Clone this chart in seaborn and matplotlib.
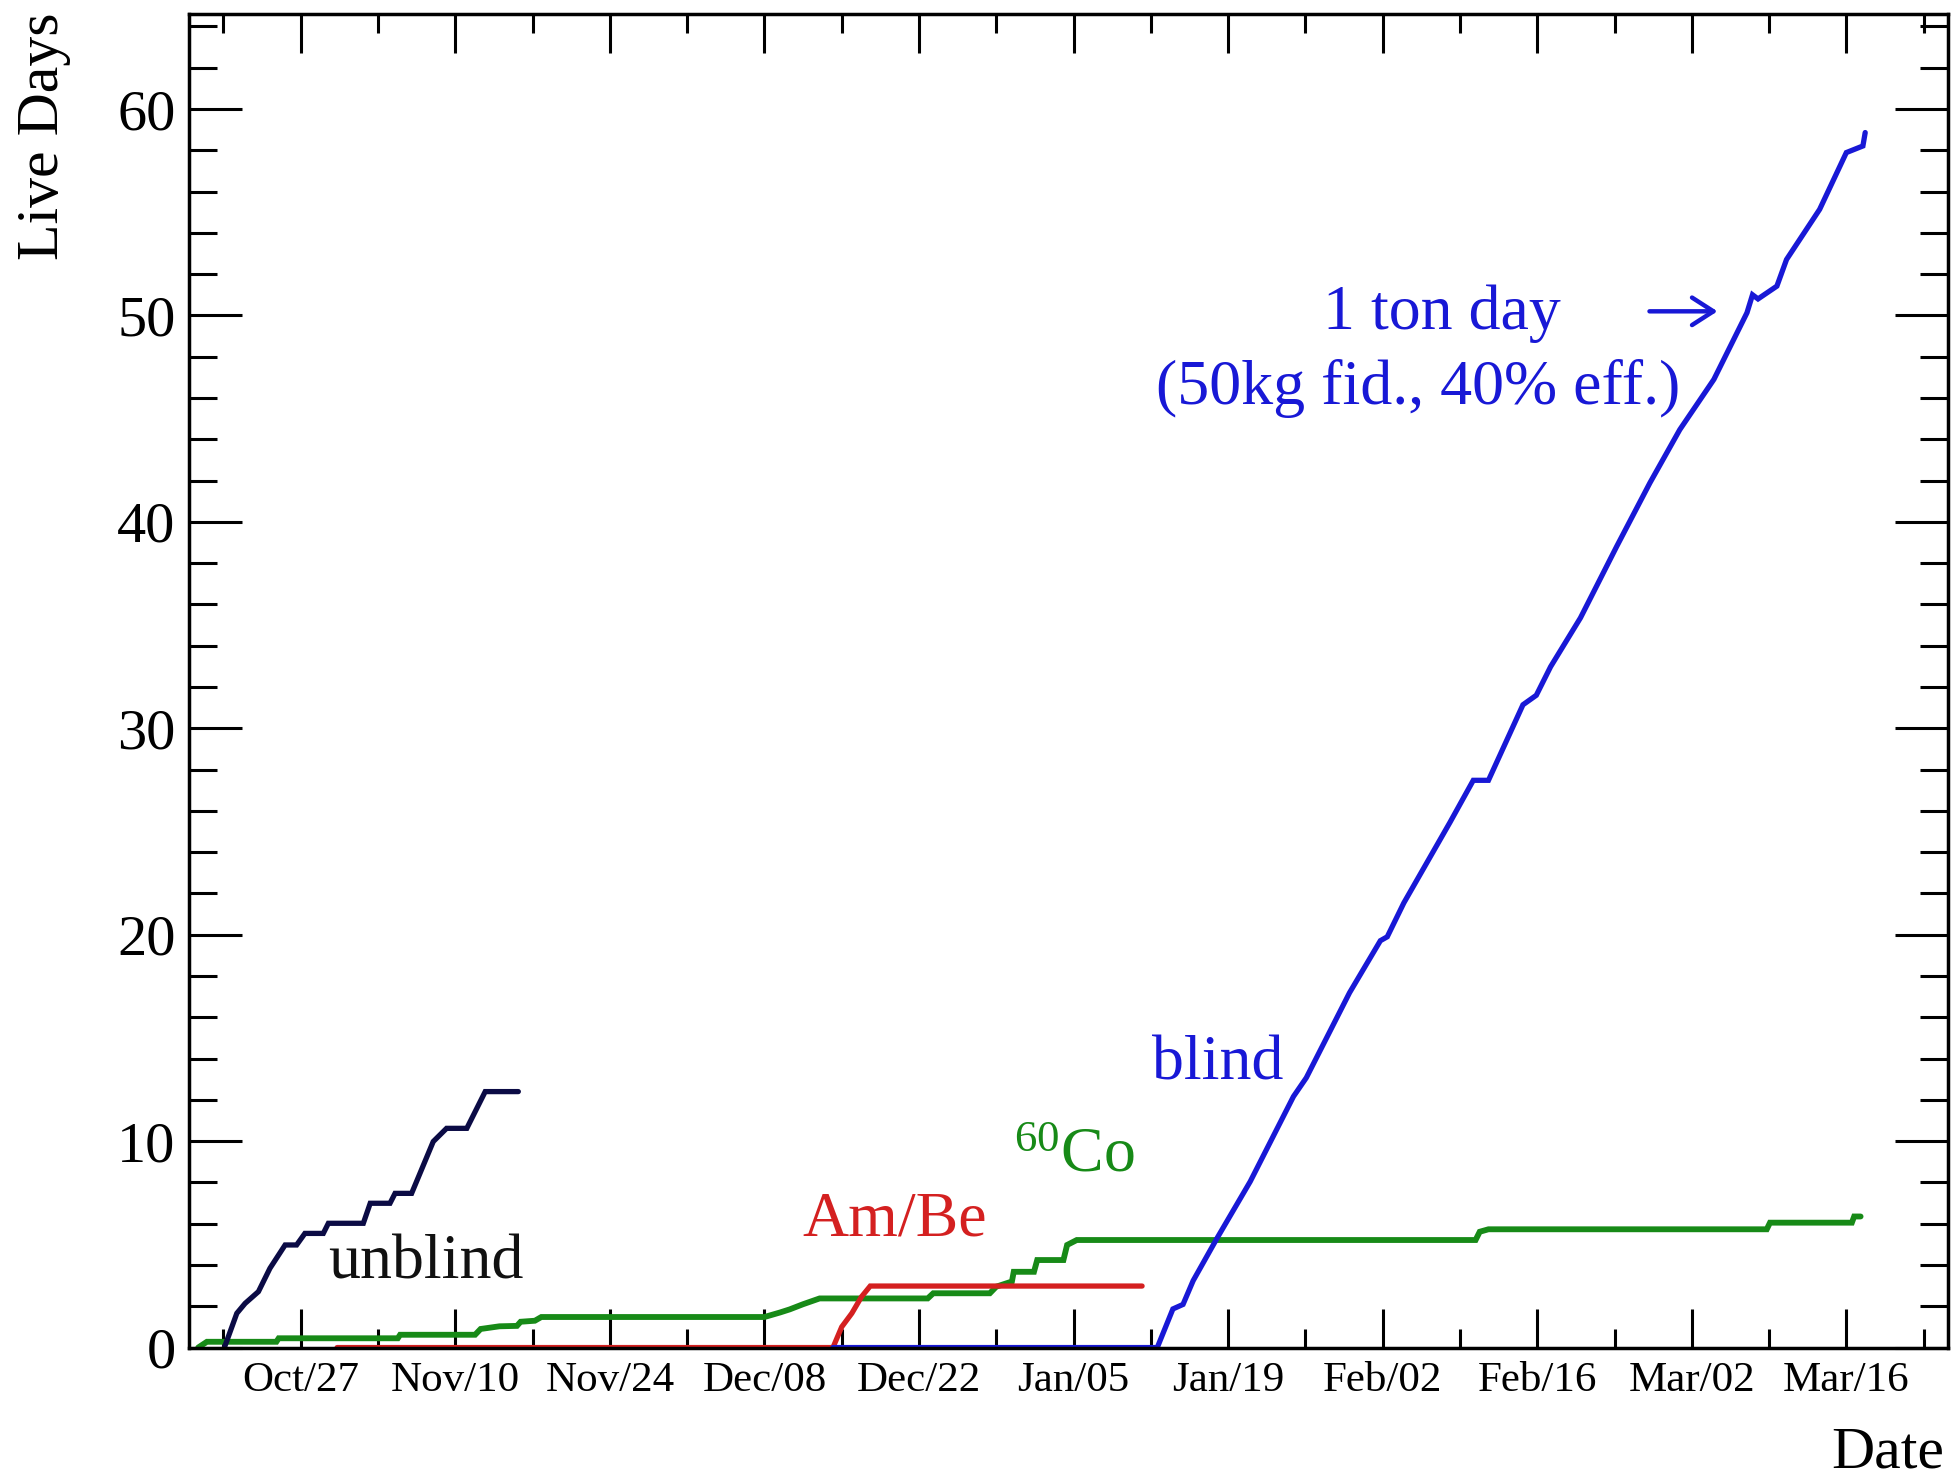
import pandas as pd
import matplotlib
matplotlib.use("Agg")
import matplotlib.pyplot as plt
import matplotlib.dates as mdates
from matplotlib.ticker import FixedLocator, MultipleLocator
import seaborn as sns

# Cumulative live time per data set (days)
unblind_dates = ["2009-10-20 02:00", "2009-10-21 05:00", "2009-10-21 23:00", "2009-10-23 04:00",
                 "2009-10-24 05:00", "2009-10-25 14:00", "2009-10-26 15:00", "2009-10-27 09:00",
                 "2009-10-29 01:00", "2009-10-29 12:00", "2009-11-01 16:00", "2009-11-02 07:00",
                 "2009-11-04 02:00", "2009-11-04 13:00", "2009-11-06 01:00", "2009-11-08 00:00",
                 "2009-11-09 05:00", "2009-11-11 01:00", "2009-11-12 17:00", "2009-11-15 17:00"]
unblind_days = [0.0, 1.66, 2.14, 2.71, 3.84, 4.97, 4.97, 5.53, 5.53, 6.02, 6.02, 6.99,
                6.99, 7.47, 7.47, 9.98, 10.62, 10.62, 12.40, 12.40]

co_dates = ["2009-10-17 17:00", "2009-10-18 12:00", "2009-10-24 19:00", "2009-10-25 00:00",
            "2009-11-04 19:00", "2009-11-05 00:00", "2009-11-11 19:00", "2009-11-12 07:00",
            "2009-11-14 00:00", "2009-11-15 14:00", "2009-11-15 22:00", "2009-11-17 05:00",
            "2009-11-17 19:00", "2009-12-08 00:00", "2009-12-09 10:00", "2009-12-10 07:00",
            "2009-12-11 12:00", "2009-12-13 00:00", "2009-12-22 19:00", "2009-12-23 07:00",
            "2009-12-28 10:00", "2009-12-29 00:00", "2009-12-30 10:00", "2009-12-30 14:00",
            "2010-01-01 10:00", "2010-01-01 17:00", "2010-01-04 02:00", "2010-01-04 10:00",
            "2010-01-05 07:00", "2010-02-10 10:00", "2010-02-10 19:00", "2010-02-11 14:00",
            "2010-03-08 19:00", "2010-03-09 02:00", "2010-03-16 12:00", "2010-03-16 17:00",
            "2010-03-17 07:00"]
co_days = [0.0, 0.28, 0.28, 0.45, 0.45, 0.62, 0.62, 0.90, 1.03, 1.05, 1.25, 1.30,
           1.48, 1.48, 1.70, 1.85, 2.10, 2.38, 2.38, 2.63, 2.63, 2.95, 3.20, 3.67,
           3.67, 4.24, 4.24, 4.97, 5.21, 5.21, 5.61, 5.73, 5.73, 6.05, 6.05, 6.35, 6.35]

ambe_dates = ["2009-10-30 07:00", "2009-12-14 05:00", "2009-12-15 00:00", "2009-12-15 22:00",
              "2009-12-16 19:00", "2009-12-17 14:00", "2010-01-11 05:00"]
ambe_days = [0.0, 0.0, 1.0, 1.66, 2.46, 2.98, 2.98]

blind_dates = ["2009-12-14 05:00", "2010-01-12 14:00", "2010-01-14 00:00", "2010-01-14 22:00",
               "2010-01-15 20:00", "2010-01-18 00:00", "2010-01-21 00:00", "2010-01-24 22:00",
               "2010-01-26 02:00", "2010-01-30 00:00", "2010-02-01 19:00", "2010-02-02 10:00",
               "2010-02-03 22:00", "2010-02-08 02:00", "2010-02-10 05:00", "2010-02-11 14:00",
               "2010-02-14 17:00", "2010-02-15 22:00", "2010-02-17 05:00", "2010-02-19 22:00",
               "2010-02-23 05:00", "2010-02-26 05:00", "2010-02-28 22:00", "2010-03-04 00:00",
               "2010-03-07 00:00", "2010-03-07 12:00", "2010-03-08 00:00", "2010-03-09 17:00",
               "2010-03-10 14:00", "2010-03-13 14:00", "2010-03-16 00:00", "2010-03-17 12:00",
               "2010-03-17 17:00"]
blind_days = [0.0, 0.0, 1.87, 2.09, 3.24, 5.30, 8.04, 12.16, 13.07, 17.19, 19.71, 19.90,
              21.54, 25.43, 27.48, 27.48, 31.14, 31.60, 32.98, 35.35, 38.82, 41.89, 44.47,
              46.90, 50.13, 51.00, 50.80, 51.42, 52.71, 55.14, 57.89, 58.21, 58.86]

tick_dates = ["2009-10-27", "2009-11-10", "2009-11-24", "2009-12-08", "2009-12-22", "2010-01-05",
              "2010-01-19", "2010-02-02", "2010-02-16", "2010-03-02", "2010-03-16"]
tick_labels = ["Oct/27", "Nov/10", "Nov/24", "Dec/08", "Dec/22", "Jan/05",
               "Jan/19", "Feb/02", "Feb/16", "Mar/02", "Mar/16"]

sns.set_theme(style="ticks")
plt.rcParams["font.family"] = ["Liberation Serif", "DejaVu Serif"]
plt.rcParams["mathtext.fontset"] = "custom"
plt.rcParams["mathtext.rm"] = "Liberation Serif"
plt.rcParams["mathtext.it"] = "Liberation Serif:italic"
plt.rcParams["mathtext.bf"] = "Liberation Serif:bold"

NAVY = "#0b0b45"
BLUE = "#1818d6"
GREEN = "#178a17"
RED = "#d42020"

fig = plt.figure(figsize=(19.57, 14.81), dpi=100)
ax = fig.add_axes([0.0968, 0.0901, 0.8986, 0.9004])

series = [
    (co_dates, co_days, GREEN, 4.2),
    (unblind_dates, unblind_days, NAVY, 3.8),
    (ambe_dates, ambe_days, RED, 3.8),
    (blind_dates, blind_days, BLUE, 3.8),
]
for dts, vals, col, lw in series:
    df = pd.DataFrame({"date": pd.to_datetime(dts), "live": vals})
    sns.lineplot(data=df, x="date", y="live", color=col, linewidth=lw,
                 estimator=None, sort=False, ax=ax, solid_joinstyle="miter")


def t(s):
    return mdates.date2num(pd.Timestamp(s))


ax.set_xlim(t("2009-10-16 22:00"), t("2010-03-25 05:00"))
ax.set_ylim(0, 64.6)

major = [t(s) for s in tick_dates]
minor = [m - 7 for m in major] + [major[-1] + 7]
ax.xaxis.set_major_locator(FixedLocator(major))
ax.xaxis.set_minor_locator(FixedLocator(minor))
ax.set_xticklabels(tick_labels)
ax.yaxis.set_major_locator(MultipleLocator(10))
ax.yaxis.set_minor_locator(MultipleLocator(2))

ax.tick_params(axis="both", which="both", direction="in", top=True, right=True,
               color="black", width=2.2)
ax.tick_params(axis="x", which="major", length=28, labelsize=31, pad=10)
ax.tick_params(axis="x", which="minor", length=14)
ax.tick_params(axis="y", which="major", length=38, labelsize=42, pad=10)
ax.tick_params(axis="y", which="minor", length=20)
for lab in ax.get_xticklabels() + ax.get_yticklabels():
    lab.set_color("black")
for sp in ax.spines.values():
    sp.set_visible(True)
    sp.set_linewidth(2.5)
    sp.set_color("black")
ax.set_xlabel("")
ax.set_ylabel("")
ax.grid(False)

fig.text(44 / 1957, 1 - 12 / 1481, "Live Days", rotation=90, ha="center", va="top",
         fontsize=43, color="black")
fig.text(1944 / 1957, 1 - 1468 / 1481, "Date", ha="right", va="baseline",
         fontsize=43, color="black")

ax.text(t("2009-10-29 12:00"), 3.35, "unblind", ha="left", va="baseline",
        fontsize=46, color="#111111")
ax.text(t("2009-12-11 10:00"), 5.45, "Am/Be", ha="left", va="baseline",
        fontsize=46, color=RED)
ax.text(t("2009-12-30 14:00"), 8.55, r"$^{\mathrm{60}}$Co", ha="left", va="baseline",
        fontsize=46, color=GREEN)
ax.text(t("2010-01-12 02:00"), 12.97, "blind", ha="left", va="baseline",
        fontsize=46, color=BLUE)
ax.text(t("2010-02-07 08:00"), 49.32, "1 ton day", ha="center", va="baseline",
        fontsize=46, color=BLUE)
ax.text(t("2010-02-05 06:00"), 45.69, "(50kg fid., 40% eff.)", ha="center", va="baseline",
        fontsize=46, color=BLUE)
ax.annotate("", xy=(t("2010-03-04 14:00"), 50.2), xytext=(t("2010-02-25 22:00"), 50.2),
            arrowprops=dict(arrowstyle="->,head_length=0.7,head_width=0.45",
                            mutation_scale=22, color=BLUE, lw=3.2))

fig.savefig("out.png", dpi=100)
